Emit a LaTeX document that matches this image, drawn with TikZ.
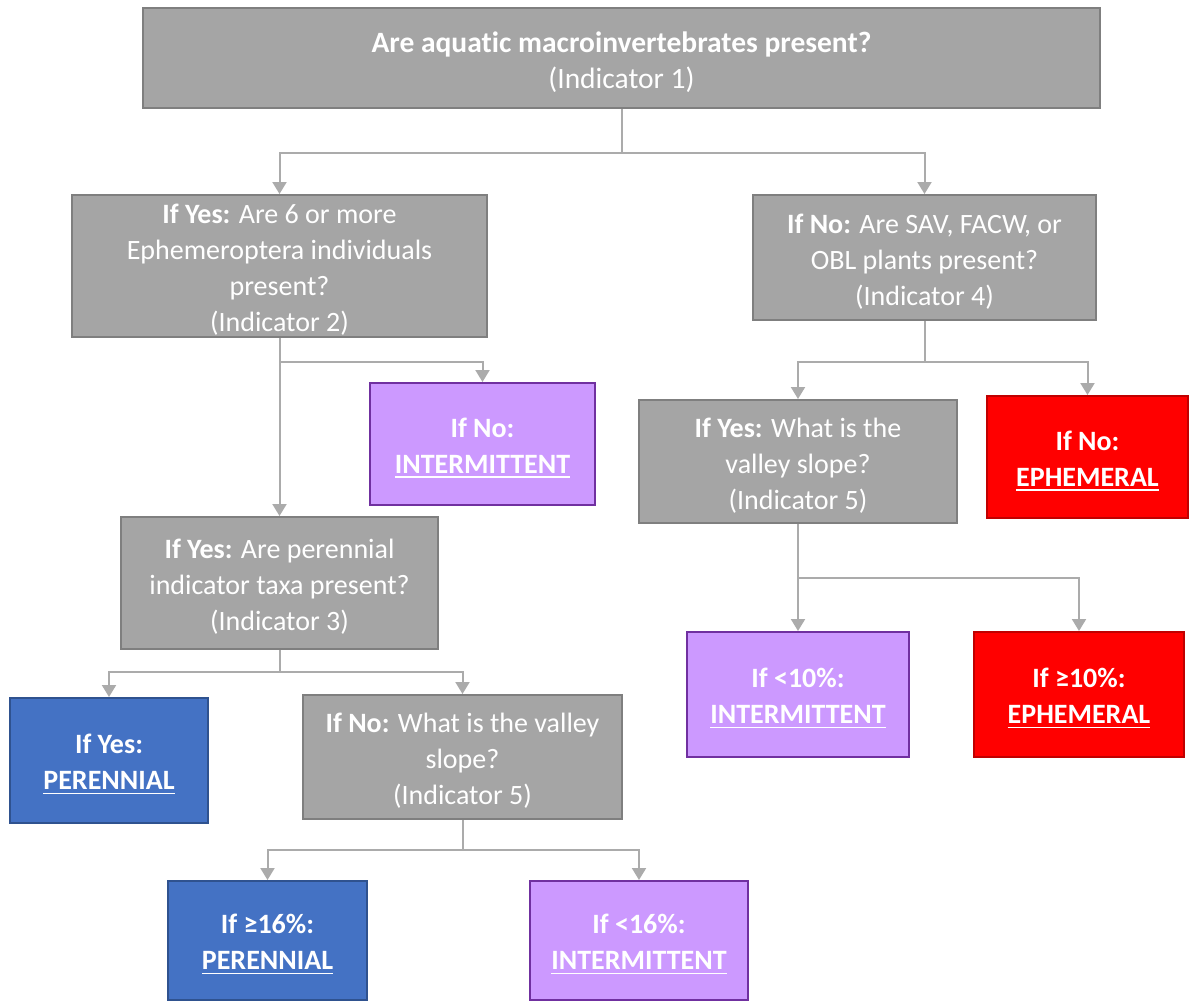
\documentclass[tikz,border=0pt]{standalone}
\usepackage{fontspec}
\setmainfont{Carlito}[Ligatures={NoCommon}]
\newcommand\myul[1]{\setbox0\hbox{#1}\leavevmode\rlap{\vrule height -3pt depth 4.5pt width \wd0}\box0}
\usetikzlibrary{arrows.meta}
\definecolor{boxgray}{HTML}{A5A5A5}
\definecolor{edgegray}{HTML}{7F7F7F}
\definecolor{linegray}{HTML}{ABABAB}
\definecolor{purfill}{HTML}{CC99FF}
\definecolor{puredge}{HTML}{7030A0}
\definecolor{bluefill}{HTML}{4472C4}
\definecolor{blueedge}{HTML}{2F528F}
\definecolor{redfill}{HTML}{FF0000}
\definecolor{rededge}{HTML}{C00000}
\tikzset{
  base/.style={draw, line width=2pt, inner sep=0pt},
  txt/.style={text=white, align=center, inner sep=0pt,
    font=\fontsize{28}{36}\selectfont},
  gbox/.style={base, fill=boxgray, draw=edgegray},
  pbox/.style={base, fill=purfill, draw=puredge},
  bbox/.style={base, fill=bluefill, draw=blueedge},
  rbox/.style={base, fill=redfill, draw=rededge},
  arr/.style={draw=linegray, line width=2pt,
    -{Triangle[width=14pt,length=12pt,fill=linegray]}},
  ln/.style={draw=linegray, line width=2pt}
}
\begin{document}
\begin{tikzpicture}[x=1pt,y=-1pt]
\useasboundingbox (0,0) rectangle (1189,1002);
\fill[white] (0,0) rectangle (1189,1002);

\node[gbox, minimum width=957pt, minimum height=100pt] (top) at (621.5,58) {};
\node[gbox, minimum width=415pt, minimum height=142pt] (b2) at (279.5,266) {};
\node[gbox, minimum width=343pt, minimum height=125pt] (b4) at (924.5,257.5) {};
\node[pbox, minimum width=225pt, minimum height=122pt] (int1) at (482.5,444) {};
\node[gbox, minimum width=317pt, minimum height=132pt] (b3) at (279.5,583) {};
\node[bbox, minimum width=198pt, minimum height=125pt] (per1) at (109,760.5) {};
\node[gbox, minimum width=319pt, minimum height=124pt] (b6) at (462.5,757) {};
\node[bbox, minimum width=199pt, minimum height=119pt] (per2) at (267.5,940.5) {};
\node[pbox, minimum width=218pt, minimum height=119pt] (int2) at (639,940.5) {};
\node[gbox, minimum width=318pt, minimum height=123pt] (b5) at (798,461.5) {};
\node[rbox, minimum width=201pt, minimum height=122pt] (red1) at (1087.5,457) {};
\node[pbox, minimum width=222pt, minimum height=125pt] (int3) at (798,694.5) {};
\node[rbox, minimum width=210pt, minimum height=125pt] (red2) at (1079,694.5) {};

\node[txt, font=\fontsize{29.5}{36}\selectfont] (topt) at ([yshift=-4pt]top.center)
  {\textbf{Are aquatic macroinvertebrates present?}\\(Indicator 1)};
\node[txt] (b2t) at ([yshift=-4pt]b2.center)
  {\textbf{If Yes:} Are 6 or more\\Ephemeroptera individuals\\present?\\(Indicator 2)};
\node[txt] (b4t) at ([yshift=-4pt]b4.center)
  {\textbf{If No:} Are SAV, FACW, or\\OBL plants present?\\(Indicator 4)};
\node[txt] (int1t) at ([yshift=-4pt]int1.center)
  {\textbf{If No:}\\\textbf{\myul{INTERMITTENT}}};
\node[txt] (b3t) at ([yshift=-4pt]b3.center)
  {\textbf{If Yes:} Are perennial\\indicator taxa present?\\(Indicator 3)};
\node[txt] (per1t) at ([yshift=-4pt]per1.center)
  {\textbf{If Yes:}\\\textbf{\myul{PERENNIAL}}};
\node[txt] (b6t) at ([yshift=-4pt]b6.center)
  {\textbf{If No:} What is the valley\\slope?\\(Indicator 5)};
\node[txt] (per2t) at ([yshift=-4pt]per2.center)
  {\textbf{If ≥16\%:}\\\textbf{\myul{PERENNIAL}}};
\node[txt] (int2t) at ([yshift=-4pt]int2.center)
  {\textbf{If <16\%:}\\\textbf{\myul{INTERMITTENT}}};
\node[txt] (b5t) at ([yshift=-4pt]b5.center)
  {\textbf{If Yes:} What is the\\valley slope?\\(Indicator 5)};
\node[txt] (red1t) at ([yshift=-4pt]red1.center)
  {\textbf{If No:}\\\textbf{\myul{EPHEMERAL}}};
\node[txt] (int3t) at ([yshift=-4pt]int3.center)
  {\textbf{If <10\%:}\\\textbf{\myul{INTERMITTENT}}};
\node[txt] (red2t) at ([yshift=-4pt]red2.center)
  {\textbf{If ≥10\%:}\\\textbf{\myul{EPHEMERAL}}};

\coordinate (j1) at (0,153);
\coordinate (j2) at (0,362);
\coordinate (j3) at (0,672);
\coordinate (j4) at (0,850);
\coordinate (j5) at (0,362);
\coordinate (j6) at (0,578);

\draw[ln] (top.south) -- (top.south |- j1);
\draw[arr] (top.south |- j1) -| (b2.north);
\draw[arr] (top.south |- j1) -| (b4.north);

\draw[arr] (b2.south) -- (b3.north);
\draw[arr] (b2.south |- j2) -| (int1.north);

\draw[ln] (b3.south) -- (b3.south |- j3);
\draw[arr] (b3.south |- j3) -| (per1.north);
\draw[arr] (b3.south |- j3) -| (b6.north);

\draw[ln] (b6.south) -- (b6.south |- j4);
\draw[arr] (b6.south |- j4) -| (per2.north);
\draw[arr] (b6.south |- j4) -| (int2.north);

\draw[ln] (b4.south) -- (b4.south |- j5);
\draw[arr] (b4.south |- j5) -| (b5.north);
\draw[arr] (b4.south |- j5) -| (red1.north);

\draw[arr] (b5.south) -- (int3.north);
\draw[arr] (b5.south |- j6) -| (red2.north);
\end{tikzpicture}
\end{document}
